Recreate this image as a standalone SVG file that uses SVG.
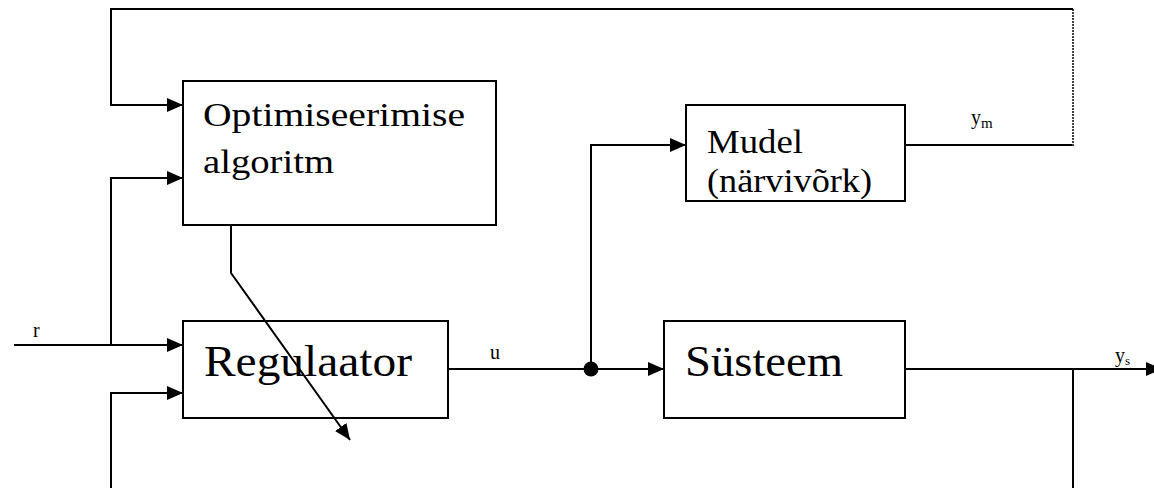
<svg xmlns="http://www.w3.org/2000/svg" width="1154" height="488" viewBox="0 0 1154 488">
<style>
.box{fill:#fff;stroke:#000;stroke-width:2}
.ln{fill:none;stroke:#000;stroke-width:2}
.t{font-family:"Liberation Serif","Times New Roman",serif;fill:#000}
</style>
<defs>
<marker id="ah" markerWidth="16" markerHeight="14" refX="16" refY="7" orient="auto" markerUnits="userSpaceOnUse">
<path d="M0,0 L16,7 L0,14 Z" fill="#000"/>
</marker>
</defs>
<rect width="1154" height="488" fill="#fff"/>
<g id="optim">
<rect class="box" x="183" y="81" width="313" height="144"/>
<text class="t" x="203" y="126" font-size="34" textLength="262" lengthAdjust="spacingAndGlyphs">Optimiseerimise</text>
<text class="t" x="203" y="173" font-size="34" textLength="131" lengthAdjust="spacingAndGlyphs">algoritm</text>
</g>
<g id="regulaator">
<rect class="box" x="183" y="321" width="265" height="97"/>
<text class="t" x="204" y="376" font-size="44" textLength="208" lengthAdjust="spacingAndGlyphs">Regulaator</text>
</g>
<g id="mudel">
<rect class="box" x="686" y="105" width="219" height="96"/>
<text class="t" x="707" y="153" font-size="34" textLength="96" lengthAdjust="spacingAndGlyphs">Mudel</text>
<text class="t" x="707" y="192" font-size="34" textLength="165" lengthAdjust="spacingAndGlyphs">(närvivõrk)</text>
</g>
<g id="systeem">
<rect class="box" x="664" y="321" width="241" height="97"/>
<text class="t" x="685" y="376" font-size="44" textLength="158" lengthAdjust="spacingAndGlyphs">Süsteem</text>
</g>
<g id="connectors">
<path class="ln" d="M1073,145 L906,145"/>
<path d="M1073,9 L1073,146" fill="none" stroke="#444" stroke-width="2" stroke-dasharray="2 1"/>
<path class="ln" d="M1073,9 L111,9 L111,105 L183,105" marker-end="url(#ah)"/>
<path class="ln" d="M111,345 L111,178 L183,178" marker-end="url(#ah)"/>
<path class="ln" d="M14,345 L183,345" marker-end="url(#ah)"/>
<path class="ln" d="M111,488 L111,393 L183,393" marker-end="url(#ah)"/>
<path class="ln" d="M231,226 L231,273 L350,440" marker-end="url(#ah)"/>
<path class="ln" d="M449,369 L664,369" marker-end="url(#ah)"/>
<path class="ln" d="M591,369 L591,145 L686,145" marker-end="url(#ah)"/>
<circle cx="591" cy="369" r="7.5" fill="#000"/>
<path class="ln" d="M906,369 L1162,369" marker-end="url(#ah)"/>
<path class="ln" d="M1073,369 L1073,488"/>
</g>
<g id="labels">
<text class="t" x="33" y="337" font-size="20">r</text>
<text class="t" x="490" y="359" font-size="20">u</text>
<text class="t" x="971" y="124" font-size="20">y<tspan font-size="15" dy="4">m</tspan></text>
<text class="t" x="1115" y="362" font-size="20">y<tspan font-size="13" dy="3">s</tspan></text>
</g>
</svg>
